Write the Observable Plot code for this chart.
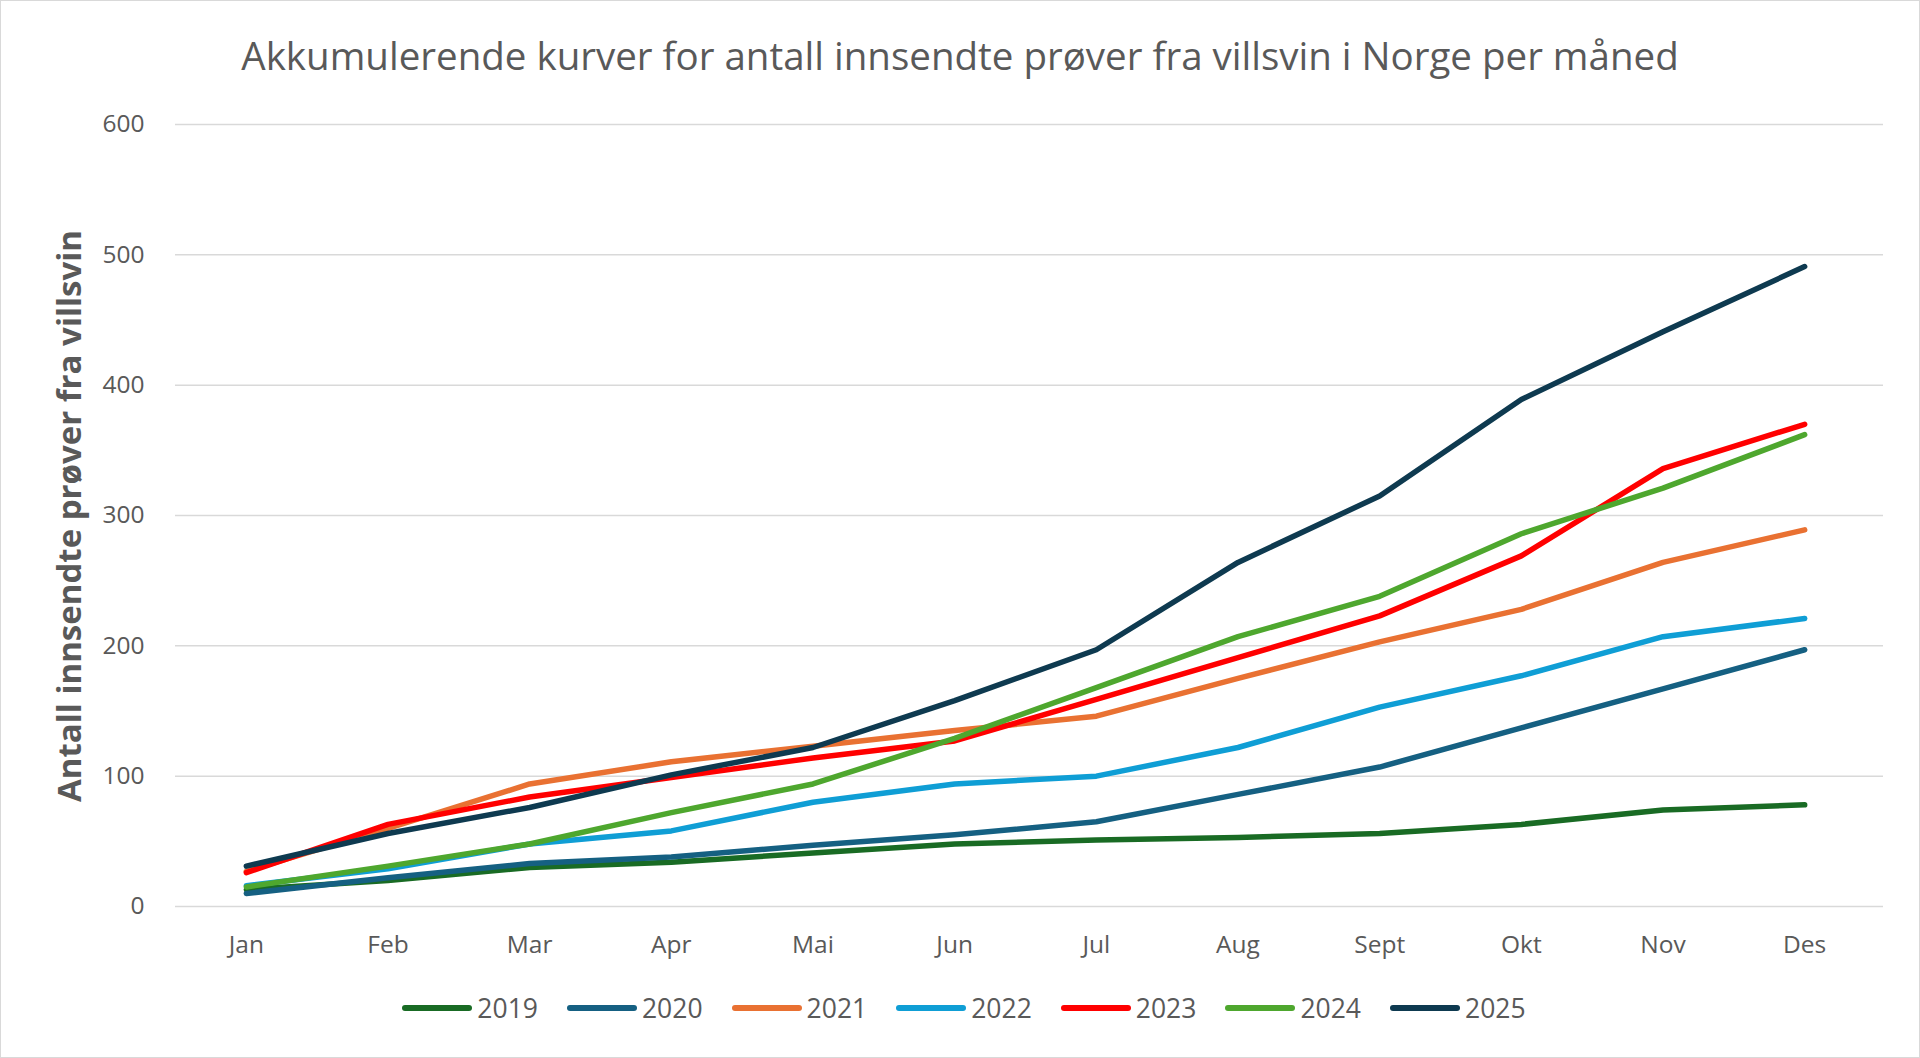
<!DOCTYPE html>
<html><head><meta charset="utf-8">
<script src="https://cdn.jsdelivr.net/npm/d3@7"></script>
<script src="https://cdn.jsdelivr.net/npm/@observablehq/plot@0.6"></script>
<style>
body{margin:0;background:#fff;}
#wrap{position:relative;width:1918px;height:1056px;border:1px solid #d9d9d9;font-family:"Open Sans",sans-serif;overflow:hidden;background:#fff}
#title{position:absolute;left:0;width:100%;top:35px;text-align:center;font-size:38.5px;color:#595959;line-height:1;}
#chart{position:absolute;left:0;top:95px;}
#ytitle{position:absolute;left:67px;top:515px;transform:translate(-50%,-50%) rotate(-90deg);white-space:nowrap;font-weight:bold;font-size:33px;color:#595959;}
#legend{position:absolute;left:0;width:100%;top:989px;display:flex;justify-content:center;gap:29px;font-size:26.5px;color:#595959;padding-left:8px;box-sizing:border-box;}
.item{display:flex;align-items:center;gap:5px;}
.sw{width:70px;height:6px;border-radius:3px;}
</style></head>
<body>
<div id="wrap">
<div id="title">Akkumulerende kurver for antall innsendte prøver fra villsvin i Norge per måned</div>
<div id="chart"></div>
<div id="ytitle">Antall innsendte prøver fra villsvin</div>
<div id="legend"></div>
</div>
<script>
const months = ["Jan","Feb","Mar","Apr","Mai","Jun","Jul","Aug","Sept","Okt","Nov","Des"];
const years = ["2019","2020","2021","2022","2023","2024","2025"];
const colors = ["#196b24","#156082","#e97132","#0f9ed5","#ff0000","#4ea72e","#0e3a50"];
const y2019 = [13,20,30,34,41,48,51,53,56,63,74,78];
const y2020 = [10,22,33,38,47,55,65,86,107,137,167,197];
const y2021 = [27,60,94,111,123,135,146,175,203,228,264,289];
const y2022 = [16,29,48,58,80,94,100,122,153,177,207,221];
const y2023 = [26,63,84,99,114,127,159,191,223,269,336,370];
const y2024 = [15,31,48,72,94,129,168,207,238,286,321,362];
const y2025 = [31,56,76,101,122,158,197,264,315,389,441,491];
const series = [y2019,y2020,y2021,y2022,y2023,y2024,y2025];
const yTicks = [0,100,200,300,400,500,600];

const data = [];
series.forEach((vals,i)=>vals.forEach((v,j)=>data.push({year:years[i],month:months[j],value:v})));

const plot = Plot.plot({
  width:1918, height:880,
  marginLeft:174, marginRight:44, marginTop:28, marginBottom:70,
  style:{fontFamily:"Open Sans, sans-serif", fontSize:"24.5px", color:"#595959", background:"transparent"},
  x:{type:"point", domain:months, padding:0.5, round:false, label:null},
  y:{domain:[0,600], ticks:yTicks, label:null},
  color:{domain:years, range:colors},
  marks:[
    Plot.gridY(yTicks,{stroke:"#d9d9d9", strokeOpacity:1, strokeWidth:1.5, insetRight:-8}),
    Plot.axisY(yTicks,{tickSize:0, tickPadding:31, fill:"#595959", label:null}),
    Plot.axisX({tickSize:0, tickPadding:29, fill:"#595959", label:null}),
    Plot.line(data,{x:"month", y:"value", z:"year", stroke:"year", strokeWidth:5.5, strokeLinejoin:"round", strokeLinecap:"round"})
  ]
});
document.getElementById("chart").appendChild(plot);

const leg = document.getElementById("legend");
years.forEach((y,i)=>{
  const it = document.createElement("div"); it.className="item";
  const sw = document.createElement("div"); sw.className="sw"; sw.style.background=colors[i];
  const t = document.createElement("span"); t.textContent=y;
  it.appendChild(sw); it.appendChild(t); leg.appendChild(it);
});
</script>
</body></html>
